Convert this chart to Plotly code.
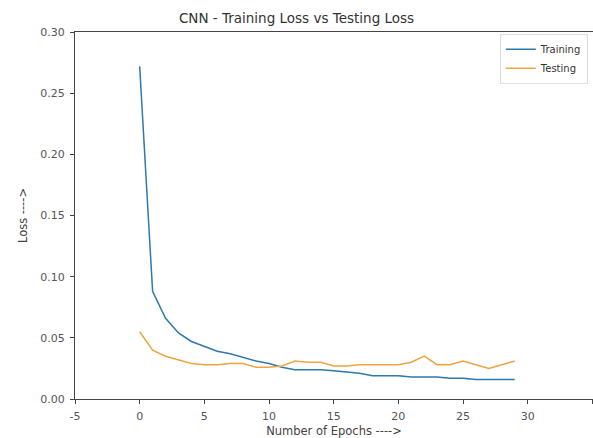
import plotly.graph_objects as go

epochs = list(range(30))
training_loss = [0.272, 0.088, 0.066, 0.054, 0.047, 0.043, 0.039, 0.037, 0.034, 0.031,
                 0.029, 0.026, 0.024, 0.024, 0.024, 0.023, 0.022, 0.021, 0.019, 0.019,
                 0.019, 0.018, 0.018, 0.018, 0.017, 0.017, 0.016, 0.016, 0.016, 0.016]
testing_loss = [0.055, 0.040, 0.035, 0.032, 0.029, 0.028, 0.028, 0.029, 0.029, 0.026,
                0.026, 0.027, 0.031, 0.030, 0.030, 0.027, 0.027, 0.028, 0.028, 0.028,
                0.028, 0.030, 0.035, 0.028, 0.028, 0.031, 0.028, 0.025, 0.028, 0.031]
x_ticks = [-5, 0, 5, 10, 15, 20, 25, 30, 35]
y_ticks = [0.00, 0.05, 0.10, 0.15, 0.20, 0.25, 0.30]

font = "DejaVu Sans"
fig = go.Figure()
fig.add_trace(go.Scatter(x=epochs, y=training_loss, mode="lines", name="Training",
                         line=dict(color="#2e78ab", width=1.5)))
fig.add_trace(go.Scatter(x=epochs, y=testing_loss, mode="lines", name="Testing",
                         line=dict(color="#eda53f", width=1.5)))

axis_common = dict(showline=True, linecolor="#444", linewidth=1, mirror=True,
                   ticks="outside", ticklen=4, tickcolor="#444", showgrid=False,
                   zeroline=False, automargin=False, ticklabelstandoff=3,
                   tickfont=dict(family=font, size=11, color="#555"))
fig.update_layout(
    width=593, height=438,
    margin=dict(l=75, r=0, t=32, b=39),
    paper_bgcolor="white", plot_bgcolor="white",
    title=dict(text="CNN - Training Loss vs Testing Loss", x=0.5, xanchor="center",
               y=0.958, yanchor="middle", font=dict(family=font, size=13.5, color="#333")),
    xaxis=dict(range=[-5, 35.05], tickvals=x_ticks, ticktext=[str(v) for v in x_ticks],
               title=dict(text="Number of Epochs ---->", standoff=8,
                          font=dict(family=font, size=11.5, color="#444")),
               **axis_common),
    yaxis=dict(range=[0, 0.30], tickvals=y_ticks, ticktext=[f"{v:.2f}" for v in y_ticks],
               title=dict(text="Loss ---->", standoff=10,
                          font=dict(family=font, size=11.5, color="#444")),
               **axis_common),
    legend=dict(x=0.99, y=0.995, xanchor="right", yanchor="top",
                bgcolor="rgba(255,255,255,0.8)", bordercolor="#ddd", borderwidth=1,
                font=dict(family=font, size=10, color="#333"), tracegroupgap=0,
                itemwidth=30),
    showlegend=True,
)
fig.write_html("out.html", config={"displayModeBar": False},
               post_script="document.body.style.margin='0';")
